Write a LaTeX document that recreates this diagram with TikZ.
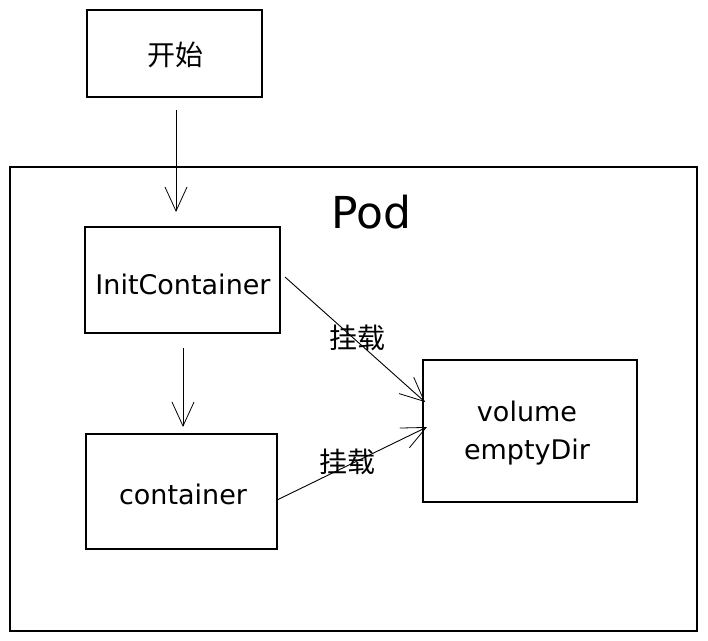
\documentclass[tikz,border=0pt]{standalone}
\usepackage{fontspec}
\setmainfont{DejaVu Sans}
\newfontfamily\cjk{Noto Sans CJK SC}
\usetikzlibrary{arrows.meta}
\begin{document}
\begin{tikzpicture}[x=1pt,y=-1pt,
  boxstyle/.style={draw=black,line width=1.1pt,inner sep=0pt},
  conn/.style={draw=black,line width=0.9pt,-{Straight Barb[length=24pt,width=22pt,line width=0.8pt]}},
  lbl/.style={font=\fontsize{27}{38}\selectfont},
  cjklbl/.style={font=\cjk\fontsize{28}{32}\selectfont}]
\useasboundingbox (0,0) rectangle (708,640);
\fill[white] (0,0) rectangle (708,640);
% Pod container
\node[boxstyle,minimum width=687pt,minimum height=464pt] (pod) at (353.5,399) {};
\node[font=\fontsize{44}{48}\selectfont] (podlbl) at (371,212) {Pod};
% boxes
\node[boxstyle,minimum width=175pt,minimum height=87pt] (start) at (174.5,53.5) {};
\node[cjklbl] (startlbl) at (175,55) {开始};
\node[boxstyle,minimum width=195pt,minimum height=106pt] (init) at (182.5,280) {};
\node[lbl] (initlbl) at (183,284) {InitContainer};
\node[boxstyle,minimum width=191pt,minimum height=115pt] (cont) at (181.5,491.5) {};
\node[lbl] (contlbl) at (183,494) {container};
\node[boxstyle,minimum width=214pt,minimum height=142pt] (vol) at (530,431) {};
\node[lbl,align=center] (vollbl) at (527,433) {volume\\emptyDir};
% connectors
\coordinate (a1) at (176,110);
\coordinate (a2) at (176,212);
\draw[conn] (a1) -- (a2);
\coordinate (b1) at (183,348);
\coordinate (b2) at (183,427);
\draw[conn] (b1) -- (b2);
\coordinate (c1) at (285,277);
\coordinate (c2) at (425,402);
\draw[conn] (c1) -- (c2);
\coordinate (d1) at (277,500);
\coordinate (d2) at (427,427);
\draw[conn] (d1) -- (d2);
\node[cjklbl] (m1) at (357,338) {挂载};
\node[cjklbl] (m2) at (347,462) {挂载};
\end{tikzpicture}
\end{document}
